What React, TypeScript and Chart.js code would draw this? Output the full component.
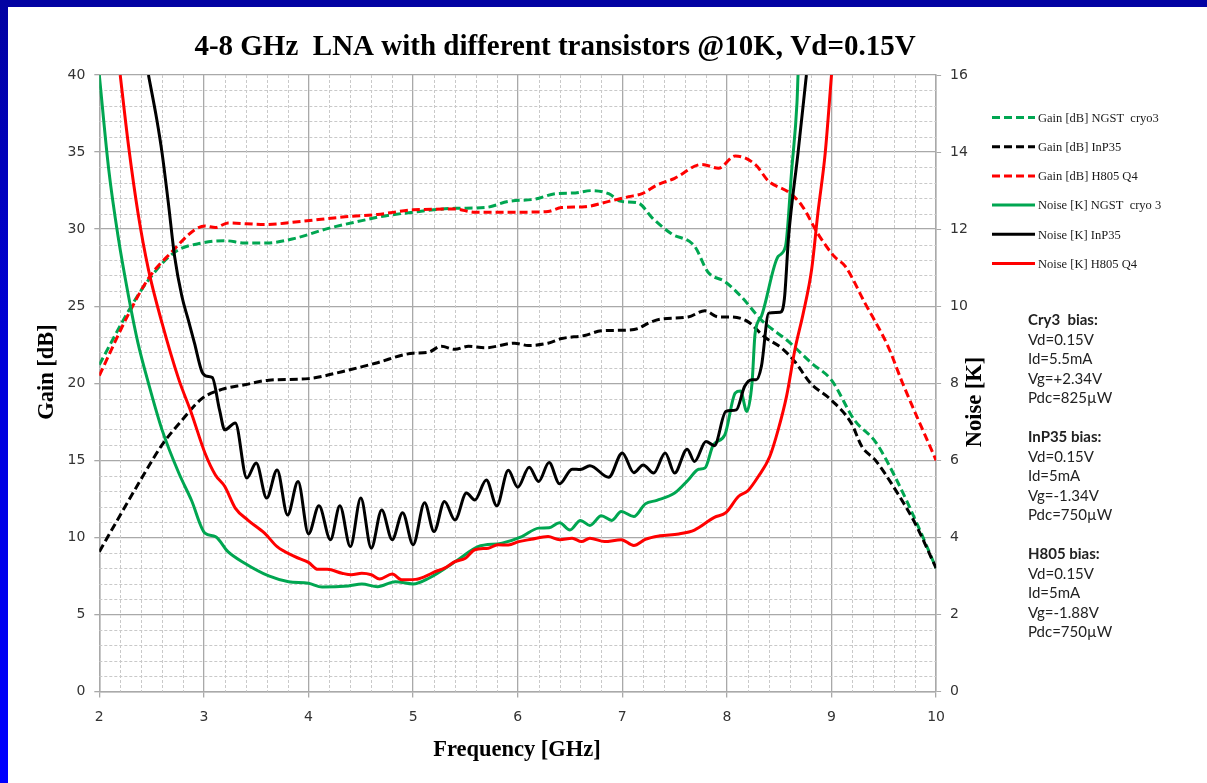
import React, { useEffect, useRef } from "react";
import { Chart, registerables } from "chart.js";

Chart.register(...registerables);

// ---- axes ----
const FREQ_MIN = 2;
const FREQ_MAX = 10;
const FREQ_STEP = 1;
const FREQ_MINOR_STEP = 0.2;

const GAIN_MIN = 0;
const GAIN_MAX = 40;
const GAIN_STEP = 5;
const GAIN_MINOR_STEP = 1;

const NOISE_MIN = 0;
const NOISE_MAX = 16;
const NOISE_STEP = 2;

const TITLE = "4-8 GHz  LNA with different transistors @10K, Vd=0.15V";
const X_TITLE = "Frequency [GHz]";
const GAIN_TITLE = "Gain [dB]";
const NOISE_TITLE = "Noise [K]";

// ---- series labels ----
const seriesLabels = [
  "Gain [dB] NGST  cryo3",
  "Gain [dB] InP35",
  "Gain [dB] H805 Q4",
  "Noise [K] NGST  cryo 3",
  "Noise [K] InP35",
  "Noise [K] H805 Q4",
];

// ---- Gain [dB] NGST cryo3 ----
const gainCryo3Freq = [2.0, 2.28, 2.47, 2.72, 2.98, 3.2, 3.39, 3.6, 3.87, 4.19, 4.51, 4.68, 5.0, 5.4, 5.69, 5.91, 6.17, 6.36, 6.55, 6.71, 6.87, 6.99, 7.15, 7.29, 7.47, 7.69, 7.82, 7.98, 8.14, 8.33, 8.59, 8.81, 9.0, 9.22, 9.42, 9.61, 9.83, 10.0];
const gainCryo3Db = [21.2, 24.7, 26.7, 28.5, 29.1, 29.25, 29.1, 29.1, 29.4, 30.05, 30.55, 30.8, 31.1, 31.35, 31.4, 31.8, 31.95, 32.3, 32.35, 32.5, 32.3, 31.8, 31.7, 30.7, 29.7, 28.9, 27.2, 26.6, 25.6, 24.1, 22.7, 21.3, 20.2, 17.6, 16.2, 13.9, 10.7, 8.0];

// ---- Gain [dB] InP35 ----
const gainInp35Freq = [2.0, 2.21, 2.41, 2.6, 2.79, 2.98, 3.17, 3.39, 3.62, 4.0, 4.32, 4.64, 5.0, 5.14, 5.27, 5.4, 5.53, 5.69, 5.97, 6.1, 6.29, 6.42, 6.64, 6.8, 7.06, 7.15, 7.25, 7.36, 7.63, 7.79, 7.92, 8.04, 8.2, 8.36, 8.52, 8.65, 8.8, 9.0, 9.19, 9.29, 9.42, 9.61, 9.8, 10.0];
const gainInp35Db = [9.07, 11.56, 13.9, 16.0, 17.6, 19.0, 19.6, 19.9, 20.2, 20.3, 20.75, 21.3, 21.95, 22.0, 22.4, 22.2, 22.4, 22.3, 22.6, 22.45, 22.6, 22.9, 23.1, 23.4, 23.45, 23.55, 23.9, 24.15, 24.3, 24.7, 24.3, 24.3, 24.0, 23.0, 22.3, 21.4, 20.0, 18.9, 17.4, 15.9, 15.0, 13.1, 10.9, 8.0];

// ---- Gain [dB] H805 Q4 ----
const gainH805Freq = [2.0, 2.28, 2.48, 2.69, 2.91, 3.01, 3.11, 3.23, 3.58, 3.93, 4.35, 4.66, 5.0, 5.4, 5.59, 6.0, 6.29, 6.42, 6.64, 6.87, 7.06, 7.19, 7.33, 7.5, 7.76, 7.92, 8.08, 8.27, 8.4, 8.59, 8.72, 8.87, 9.03, 9.13, 9.32, 9.54, 9.68, 10.0];
const gainH805Db = [20.5, 24.5, 26.9, 28.5, 29.95, 30.2, 30.1, 30.4, 30.3, 30.5, 30.8, 30.95, 31.25, 31.3, 31.1, 31.1, 31.15, 31.4, 31.45, 31.8, 32.1, 32.3, 32.85, 33.3, 34.2, 33.95, 34.75, 34.2, 33.1, 32.4, 31.5, 29.7, 28.2, 27.6, 25.2, 22.4, 20.0, 15.0];

// ---- Noise [K] NGST cryo 3 ----
const noiseCryo3Freq = [2.0, 2.09, 2.18, 2.28, 2.37, 2.47, 2.6, 2.76, 2.88, 3.01, 3.11, 3.23, 3.39, 3.62, 3.81, 4.0, 4.13, 4.38, 4.51, 4.66, 4.83, 5.0, 5.15, 5.43, 5.62, 5.85, 6.04, 6.2, 6.3, 6.4, 6.5, 6.6, 6.69, 6.8, 6.9, 6.99, 7.11, 7.22, 7.33, 7.5, 7.63, 7.73, 7.79, 7.87, 7.98, 8.08, 8.13, 8.19, 8.24, 8.27, 8.33, 8.49, 8.56, 8.62, 8.67, 8.68];
const noiseCryo3K = [16.0, 13.55, 11.8, 10.25, 9.04, 8.0, 6.79, 5.67, 4.97, 4.11, 4.02, 3.63, 3.33, 3.0, 2.85, 2.81, 2.71, 2.74, 2.79, 2.72, 2.85, 2.79, 2.94, 3.42, 3.76, 3.85, 4.02, 4.24, 4.25, 4.38, 4.19, 4.44, 4.31, 4.56, 4.44, 4.67, 4.54, 4.87, 4.96, 5.15, 5.49, 5.77, 5.8, 6.4, 6.66, 7.75, 7.8, 7.27, 8.0, 9.3, 9.74, 11.29, 11.55, 13.55, 15.28, 16.0];

// ---- Noise [K] InP35 ----
const noiseInp35Freq = [2.47, 2.55, 2.6, 2.66, 2.72, 2.79, 2.85, 2.91, 2.98, 3.03, 3.08, 3.15, 3.2, 3.3, 3.41, 3.5, 3.6, 3.7, 3.8, 3.9, 4.0, 4.1, 4.21, 4.3, 4.4, 4.5, 4.6, 4.7, 4.8, 4.9, 5.0, 5.11, 5.2, 5.3, 5.4, 5.51, 5.59, 5.7, 5.8, 5.91, 6.0, 6.11, 6.2, 6.3, 6.4, 6.52, 6.6, 6.69, 6.87, 7.0, 7.11, 7.2, 7.3, 7.41, 7.5, 7.62, 7.69, 7.8, 7.88, 7.99, 8.09, 8.17, 8.24, 8.28, 8.33, 8.4, 8.51, 8.55, 8.59, 8.68, 8.76];
const noiseInp35K = [16.0, 14.84, 13.98, 12.68, 11.29, 10.25, 9.65, 9.04, 8.31, 8.18, 8.15, 7.3, 6.79, 6.97, 5.54, 5.93, 5.02, 5.75, 4.58, 5.45, 4.09, 4.82, 3.94, 4.82, 3.76, 5.02, 3.72, 4.71, 3.94, 4.64, 3.81, 4.9, 4.15, 4.93, 4.45, 5.15, 4.97, 5.49, 4.82, 5.74, 5.3, 5.82, 5.45, 5.94, 5.39, 5.77, 5.76, 5.86, 5.56, 6.19, 5.68, 5.88, 5.67, 6.19, 5.67, 6.29, 5.97, 6.49, 6.38, 7.27, 7.31, 7.92, 8.09, 8.09, 8.44, 9.82, 9.84, 10.2, 11.81, 13.98, 16.0];

// ---- Noise [K] H805 Q4 ----
const noiseH805Freq = [2.2, 2.28, 2.37, 2.47, 2.6, 2.76, 2.88, 3.01, 3.11, 3.2, 3.3, 3.42, 3.58, 3.7, 3.87, 4.0, 4.09, 4.18, 4.32, 4.41, 4.51, 4.6, 4.68, 4.8, 4.89, 5.02, 5.11, 5.21, 5.3, 5.4, 5.5, 5.59, 5.72, 5.81, 5.91, 6.01, 6.13, 6.29, 6.4, 6.52, 6.61, 6.69, 6.83, 6.99, 7.11, 7.22, 7.36, 7.54, 7.69, 7.88, 7.99, 8.11, 8.2, 8.3, 8.41, 8.49, 8.57, 8.65, 8.73, 8.81, 8.87, 8.94, 9.0];
const noiseH805K = [16.0, 14.15, 12.42, 10.95, 9.56, 8.1, 7.23, 6.19, 5.62, 5.32, 4.76, 4.45, 4.11, 3.76, 3.5, 3.35, 3.17, 3.17, 3.07, 3.03, 3.07, 3.03, 2.92, 3.05, 2.9, 2.91, 2.98, 3.11, 3.2, 3.37, 3.46, 3.68, 3.72, 3.81, 3.8, 3.89, 3.95, 4.02, 3.94, 3.98, 3.89, 3.98, 3.89, 3.94, 3.79, 3.95, 4.04, 4.09, 4.19, 4.52, 4.64, 5.06, 5.21, 5.58, 6.1, 6.79, 7.66, 8.87, 9.82, 10.95, 12.42, 13.98, 16.0];

// ---- bias notes ----
const biasNotes = [
  { head: "Cry3  bias:", lines: ["Vd=0.15V", "Id=5.5mA", "Vg=+2.34V", "Pdc=825\u00b5W"] },
  { head: "InP35 bias:", lines: ["Vd=0.15V", "Id=5mA", "Vg=-1.34V", "Pdc=750\u00b5W"] },
  { head: "H805 bias:", lines: ["Vd=0.15V", "Id=5mA", "Vg=-1.88V", "Pdc=750\u00b5W"] },
];

const GREEN = "#00a651";
const BLACK = "#000000";
const RED = "#ff0000";
const MAJOR_GRID = "#a9a9a9";
const MINOR_GRID = "#c9c9c9";

const zip = (xs: number[], ys: number[]) => xs.map((x, i) => ({ x, y: ys[i] }));

// dashed minor grid lines between the solid major ones
const minorGridPlugin = {
  id: "minorGrid",
  beforeDatasetsDraw(chart: any) {
    const { ctx, chartArea: a, scales } = chart;
    const xs = scales.x;
    const ys = scales.y;
    ctx.save();
    ctx.strokeStyle = MINOR_GRID;
    ctx.lineWidth = 1;
    ctx.setLineDash([3, 2]);
    const nX = Math.round((FREQ_MAX - FREQ_MIN) / FREQ_MINOR_STEP);
    const perX = Math.round(FREQ_STEP / FREQ_MINOR_STEP);
    for (let i = 1; i < nX; i++) {
      if (i % perX === 0) continue;
      const px = Math.round(xs.getPixelForValue(FREQ_MIN + i * FREQ_MINOR_STEP)) + 0.5;
      ctx.beginPath();
      ctx.moveTo(px, a.top);
      ctx.lineTo(px, a.bottom);
      ctx.stroke();
    }
    const nY = Math.round((GAIN_MAX - GAIN_MIN) / GAIN_MINOR_STEP);
    const perY = Math.round(GAIN_STEP / GAIN_MINOR_STEP);
    for (let j = 1; j < nY; j++) {
      if (j % perY === 0) continue;
      const py = Math.round(ys.getPixelForValue(GAIN_MIN + j * GAIN_MINOR_STEP)) + 0.5;
      ctx.beginPath();
      ctx.moveTo(a.left, py);
      ctx.lineTo(a.right, py);
      ctx.stroke();
    }
    ctx.restore();
  },
};

// title, axis titles and the series key
const textPlugin = {
  id: "chartText",
  afterDraw(chart: any) {
    const { ctx } = chart;
    ctx.save();
    ctx.fillStyle = "#000";
    ctx.textAlign = "center";
    ctx.textBaseline = "alphabetic";
    ctx.font = 'bold 29px "Liberation Serif"';
    ctx.fillText(TITLE, 555, 55);

    ctx.font = 'bold 22.5px "Liberation Serif"';
    ctx.textBaseline = "middle";
    ctx.fillText(X_TITLE, 517, 750);

    ctx.save();
    ctx.translate(47, 372);
    ctx.rotate(-Math.PI / 2);
    ctx.fillText(GAIN_TITLE, 0, 0);
    ctx.restore();

    ctx.save();
    ctx.translate(975, 402);
    ctx.rotate(-Math.PI / 2);
    ctx.fillText(NOISE_TITLE, 0, 0);
    ctx.restore();

    // key
    ctx.textAlign = "left";
    ctx.font = '12.5px "Liberation Serif"';
    chart.data.datasets.forEach((ds: any, i: number) => {
      const y = 117.5 + i * 29.2;
      ctx.save();
      ctx.strokeStyle = ds.borderColor;
      ctx.lineWidth = 3;
      ctx.setLineDash(ds.borderDash || []);
      ctx.beginPath();
      ctx.moveTo(992, y);
      ctx.lineTo(1035, y);
      ctx.stroke();
      ctx.restore();
      ctx.fillStyle = "#1a1a1a";
      ctx.fillText(ds.label, 1038, y + 1);
    });
    ctx.restore();
  },
};

export default function App() {
  const canvasRef = useRef<HTMLCanvasElement | null>(null);

  useEffect(() => {
    const canvas = canvasRef.current;
    if (!canvas) return;

    const gainStyle = { borderWidth: 3, borderDash: [8, 4], yAxisID: "y" };
    const noiseStyle = { borderWidth: 3, yAxisID: "yNoise" };

    const datasets = [
      { label: seriesLabels[0], data: zip(gainCryo3Freq, gainCryo3Db), borderColor: GREEN, ...gainStyle, order: 6 },
      { label: seriesLabels[1], data: zip(gainInp35Freq, gainInp35Db), borderColor: BLACK, ...gainStyle, order: 5 },
      { label: seriesLabels[2], data: zip(gainH805Freq, gainH805Db), borderColor: RED, ...gainStyle, order: 4 },
      { label: seriesLabels[3], data: zip(noiseCryo3Freq, noiseCryo3K), borderColor: GREEN, ...noiseStyle, order: 3 },
      { label: seriesLabels[4], data: zip(noiseInp35Freq, noiseInp35K), borderColor: BLACK, ...noiseStyle, order: 2 },
      { label: seriesLabels[5], data: zip(noiseH805Freq, noiseH805K), borderColor: RED, ...noiseStyle, order: 1 },
    ];

    const tickFont = { family: '"DejaVu Sans"', size: 14 };

    const chart = new Chart(canvas, {
      type: "line",
      data: { datasets: datasets as any },
      plugins: [minorGridPlugin, textPlugin],
      options: {
        responsive: false,
        animation: false,
        devicePixelRatio: 1,
        layout: { padding: { top: 75, left: 0, right: 0, bottom: 0 } },
        elements: {
          point: { radius: 0, hoverRadius: 0 },
          line: { cubicInterpolationMode: "monotone", fill: false, borderCapStyle: "butt" },
        },
        plugins: {
          legend: { display: false },
          tooltip: { enabled: false },
          title: { display: false },
        },
        scales: {
          x: {
            type: "linear",
            min: FREQ_MIN,
            max: FREQ_MAX,
            ticks: { stepSize: FREQ_STEP, color: "#333", font: tickFont, padding: 11, maxRotation: 0 },
            grid: { color: MAJOR_GRID, lineWidth: 1.3, tickLength: 6, tickColor: MAJOR_GRID },
            border: { color: MAJOR_GRID, width: 1.5 },
            afterFit: (s: any) => {
              s.height = 91.5;
            },
          },
          y: {
            type: "linear",
            position: "left",
            min: GAIN_MIN,
            max: GAIN_MAX,
            ticks: { stepSize: GAIN_STEP, color: "#333", font: tickFont, padding: 9 },
            grid: { color: MAJOR_GRID, lineWidth: 1.3, tickLength: 5, tickColor: MAJOR_GRID },
            border: { color: MAJOR_GRID, width: 1.5 },
            afterFit: (s: any) => {
              s.width = 99.3;
            },
          },
          yNoise: {
            type: "linear",
            position: "right",
            min: NOISE_MIN,
            max: NOISE_MAX,
            ticks: { stepSize: NOISE_STEP, color: "#333", font: tickFont, padding: 9 },
            grid: { drawOnChartArea: false, tickLength: 5, tickColor: MAJOR_GRID, color: MAJOR_GRID },
            border: { color: MAJOR_GRID, width: 1.5 },
            afterFit: (s: any) => {
              s.width = 270.9;
            },
          },
        },
      } as any,
    });

    return () => chart.destroy();
  }, []);

  const lineH = 19.5;

  return (
    <div
      style={{
        position: "absolute",
        left: 0,
        top: 0,
        width: 1207,
        height: 783,
        overflow: "hidden",
        background: "linear-gradient(to bottom, #0202a2 0%, #0000d8 45%, #0000ff 100%)",
      }}
    >
      <div style={{ position: "absolute", left: 8, top: 7, right: 0, bottom: 0, background: "#ffffff" }} />
      <canvas
        ref={canvasRef}
        width={1207}
        height={783}
        style={{ position: "absolute", left: 0, top: 0, width: 1207, height: 783 }}
      />
      <div
        style={{
          position: "absolute",
          left: 1028,
          top: 310,
          fontFamily: "Lato, 'Open Sans', sans-serif",
          fontSize: 15,
          lineHeight: `${lineH}px`,
          color: "#222",
          whiteSpace: "pre",
        }}
      >
        {biasNotes.map((b, i) => (
          <div key={i} style={{ marginBottom: i < biasNotes.length - 1 ? lineH : 0 }}>
            <div style={{ fontWeight: 700 }}>{b.head}</div>
            {b.lines.map((l, j) => (
              <div key={j}>{l}</div>
            ))}
          </div>
        ))}
      </div>
    </div>
  );
}
